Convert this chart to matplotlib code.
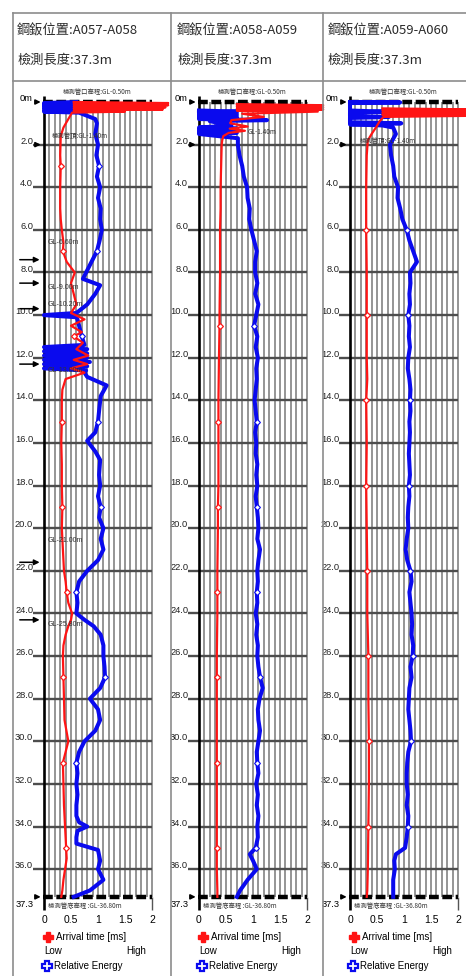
import matplotlib
matplotlib.use("Agg")
import matplotlib.pyplot as plt
from matplotlib.lines import Line2D
import numpy as np

W, H = 466, 976
CJK = ['Noto Sans CJK TC', 'DejaVu Sans']
NARROW = ['Liberation Sans Narrow', 'Liberation Sans', 'DejaVu Sans']

# ---- data ----
locations = ["A057-A058", "A058-A059", "A059-A060"]
test_length = "37.3m"
depth_ticks = [2.0, 4.0, 6.0, 8.0, 10.0, 12.0, 14.0, 16.0, 18.0, 20.0, 22.0,
               24.0, 26.0, 28.0, 30.0, 32.0, 34.0, 36.0]
bottom_depth = 37.3
x_ticks = [0, 0.5, 1, 1.5, 2]
x_tick_labels = ["0", "0.5", "1", "1.5", "2"]

# panel 1 (A057-A058)
p1_red_depth = [0.0, 0.05, 0.1, 0.15, 0.2, 0.25, 0.3, 0.35, 0.4, 0.45, 0.5, 0.8, 1.2, 1.6,
                2.5, 3.0, 4.0, 5.0, 5.5, 6.0, 6.6, 7.0, 7.5, 8.0, 8.5, 9.0, 9.5, 9.9, 10.2,
                10.5, 10.8, 11.0, 11.3, 11.6, 11.9, 12.1, 12.3, 12.5, 12.7, 13.0, 13.5, 14.0,
                15.0, 16.0, 17.0, 18.0, 19.0, 20.0, 21.0, 22.0, 22.5, 23.0, 23.5, 24.0, 24.3,
                24.6, 25.0, 25.5, 26.0, 27.0, 28.0, 29.0, 30.0, 30.5, 31.0, 32.0, 33.0, 34.0,
                35.0, 35.5, 36.0, 36.5, 37.0, 37.3]
p1_arrival = [0.55, 2.3, 0.55, 2.3, 0.55, 2.25, 0.55, 2.2, 0.55, 1.5, 0.52, 0.45, 0.36, 0.31,
              0.3, 0.31, 0.3, 0.3, 0.31, 0.33, 0.36, 0.35, 0.42, 0.57, 0.5, 0.55, 0.6, 0.5, 0.75,
              0.5, 0.7, 0.55, 0.72, 0.6, 0.82, 0.55, 0.8, 0.5, 0.75, 0.4, 0.34, 0.33,
              0.33, 0.32, 0.33, 0.33, 0.34, 0.33, 0.35, 0.37, 0.4, 0.42, 0.45, 0.52, 0.5,
              0.45, 0.4, 0.36, 0.35, 0.36, 0.37, 0.38, 0.45, 0.4, 0.35, 0.36, 0.37, 0.39,
              0.41, 0.42, 0.39, 0.36, 0.34, 0.32]
p1_blue_depth = [0.0, 0.05, 0.1, 0.15, 0.2, 0.25, 0.3, 0.35, 0.4, 0.45, 0.5, 0.8, 1.0, 1.5,
                 2.0, 2.5, 3.0, 3.5, 4.0, 4.5, 5.0, 5.5, 6.0, 6.5, 7.0, 7.5, 8.0, 8.3, 8.6,
                 9.0, 9.5, 9.9, 10.0, 10.1, 10.2, 10.5, 11.0, 11.4, 11.5, 11.6, 11.7, 11.8,
                 11.9, 12.0, 12.1, 12.2, 12.3, 12.4, 12.5, 12.6, 12.7, 12.9, 13.3, 13.8, 14.5,
                 15.0, 15.5, 15.9, 16.4, 16.8, 17.5, 18.0, 18.5, 19.0, 19.5, 20.0, 20.5, 21.0,
                 21.5, 22.0, 22.5, 23.0, 23.5, 24.0, 24.3, 24.6, 25.0, 25.5, 26.0, 26.5, 27.0,
                 27.5, 28.0, 28.5, 29.0, 29.5, 30.0, 30.5, 31.0, 31.5, 32.0, 32.5, 33.0, 33.5,
                 33.8, 34.0, 34.2, 34.5, 34.8, 35.1, 35.6, 36.0, 36.5, 37.0, 37.3]
p1_energy = [0.6, 0.0, 0.6, 0.0, 0.6, 0.0, 0.6, 0.0, 0.6, 0.0, 0.65, 0.95, 0.98, 0.95,
             1.0, 0.97, 1.02, 0.98, 1.04, 1.0, 1.05, 1.04, 1.07, 1.03, 0.98, 0.88, 0.78, 0.72, 1.04,
             0.95, 0.8, 0.6, 0.0, 0.6, 0.62, 0.65, 0.7, 0.75, 0.0, 0.8, 0.0, 0.8,
             0.0, 0.8, 0.0, 0.85, 0.0, 0.8, 0.0, 0.78, 0.75, 0.8, 1.16, 1.05, 1.02,
             1.0, 0.95, 0.8, 0.95, 1.04, 1.02, 1.04, 1.0, 1.05, 1.02, 1.1, 1.05, 1.1,
             1.0, 0.8, 0.65, 0.6, 0.62, 0.6, 0.75, 0.92, 1.05, 1.1, 1.1, 1.12, 1.13,
             1.04, 0.85, 1.0, 1.04, 0.95, 0.75, 0.65, 0.6, 0.62, 0.6, 0.62, 0.6, 0.6,
             0.65, 0.8, 0.62, 0.6, 0.6, 1.0, 1.04, 1.0, 1.1, 0.85, 0.55]
p1_marks = [3.0, 7.0, 11.0, 15.0, 19.0, 23.0, 27.0, 31.0, 35.0]

# panel 2 (A058-A059)
p2_red_depth = [0.1, 0.15, 0.2, 0.25, 0.3, 0.35, 0.4, 0.45, 0.55, 0.7, 0.85, 1.0, 1.15, 1.25,
                1.35, 1.45, 1.6, 1.8, 2.0, 3.0, 4.0, 5.0, 6.0, 7.0, 8.0, 10.0, 10.5, 12.0, 14.0,
                15.0, 16.0, 18.0, 19.0, 20.0, 22.0, 23.0, 24.0, 26.0, 27.0, 28.0, 30.0, 31.0,
                32.0, 34.0, 35.0, 36.0, 37.0, 37.3]
p2_arrival = [0.7, 2.3, 0.7, 2.3, 0.7, 2.3, 0.7, 2.2, 0.8, 1.2, 0.6, 0.58, 0.9, 0.57,
              0.85, 0.55, 0.45, 0.43, 0.42, 0.41, 0.4, 0.4, 0.39, 0.39, 0.39, 0.38, 0.38, 0.37, 0.36,
              0.36, 0.36, 0.36, 0.35, 0.35, 0.34, 0.34, 0.34, 0.33, 0.33, 0.33, 0.33, 0.33,
              0.33, 0.33, 0.33, 0.33, 0.34, 0.34]
p2_blue_depth = [0.4, 0.45, 0.5, 0.55, 0.6, 0.65, 0.7, 0.75, 0.8, 0.85, 0.9, 1.1, 1.2, 1.25,
                 1.3, 1.35, 1.4, 1.45, 1.5, 1.7, 2.0, 2.5, 3.0, 3.5, 4.0, 4.5, 5.0, 5.5, 6.0,
                 6.5, 7.0, 7.5, 8.0, 8.5, 9.0, 9.5, 10.0, 10.5, 11.0, 11.5, 12.0, 12.5, 13.0,
                 13.5, 14.0, 14.5, 15.0, 15.5, 16.0, 16.5, 17.0, 17.5, 18.0, 18.5, 19.0, 19.5,
                 20.0, 20.5, 21.0, 21.5, 22.0, 22.5, 23.0, 23.5, 24.0, 24.5, 25.0, 25.5, 26.0,
                 26.5, 27.0, 27.5, 28.0, 28.5, 29.0, 29.5, 30.0, 30.5, 31.0, 31.5, 32.0, 32.5,
                 33.0, 33.5, 34.0, 34.5, 35.0, 35.3, 35.6, 36.0, 36.5, 37.0, 37.3]
p2_energy = [0.0, 0.7, 0.0, 0.7, 0.0, 0.7, 0.0, 0.7, 0.0, 1.26, 0.2, 0.6, 0.0, 0.7,
             0.0, 0.7, 0.0, 0.7, 0.0, 0.72, 0.72, 0.75, 0.8, 0.83, 0.89, 0.9, 0.94, 0.93, 0.97,
             1.02, 1.07, 1.04, 1.04, 1.08, 1.04, 1.1, 1.06, 1.02, 1.08, 1.05, 1.09, 1.06, 1.07,
             1.05, 1.03, 1.05, 1.07, 1.04, 1.06, 1.05, 1.08, 1.06, 1.08, 1.05, 1.07, 1.09,
             1.1, 1.08, 1.13, 1.1, 1.08, 1.09, 1.07, 1.08, 1.05, 1.08, 1.06, 1.09, 1.08,
             1.1, 1.13, 1.18, 1.12, 1.09, 1.1, 1.13, 1.1, 1.07, 1.08, 1.1, 1.06, 1.09,
             1.07, 1.1, 1.08, 1.09, 1.05, 0.94, 1.0, 1.07, 0.9, 0.76, 0.7]
p2_marks = [10.5, 15.0, 19.0, 23.0, 27.0, 31.0, 35.0]

# panel 3 (A059-A060)
p3_red_depth = [0.3, 0.35, 0.4, 0.45, 0.5, 0.55, 0.6, 0.65, 0.7, 0.9, 1.2, 1.5, 1.8, 2.5,
                4.0, 6.0, 8.0, 10.0, 12.0, 13.0, 14.0, 16.0, 18.0, 20.0, 22.0, 24.0, 26.0,
                28.0, 30.0, 32.0, 34.0, 36.0, 37.0, 37.3]
p3_arrival = [0.6, 2.3, 0.6, 2.3, 0.6, 2.3, 0.6, 2.2, 0.62, 0.55, 0.48, 0.4, 0.33, 0.31,
              0.3, 0.3, 0.31, 0.31, 0.31, 0.32, 0.3, 0.31, 0.3, 0.31, 0.32, 0.32, 0.34,
              0.34, 0.35, 0.35, 0.34, 0.33, 0.32, 0.31]
p3_blue_depth = [0.0, 0.02, 0.05, 0.4, 0.45, 0.5, 0.65, 0.7, 0.75, 0.95, 1.0, 1.05, 1.1,
                 1.2, 1.5, 2.0, 2.5, 3.0, 3.5, 4.0, 4.5, 5.0, 5.5, 6.0, 6.5, 7.0, 7.5, 8.0,
                 8.5, 9.0, 9.5, 10.0, 10.5, 11.0, 11.5, 12.0, 12.5, 13.0, 13.5, 14.0, 14.5,
                 15.0, 15.5, 16.0, 16.5, 17.0, 17.5, 18.0, 18.5, 19.0, 19.5, 20.0, 20.5, 21.0,
                 21.5, 22.0, 22.5, 23.0, 23.5, 24.0, 24.5, 25.0, 25.5, 26.0, 26.5, 27.0, 27.5,
                 28.0, 28.5, 29.0, 29.5, 30.0, 30.5, 31.0, 31.5, 32.0, 32.5, 33.0, 33.5, 34.0,
                 34.5, 35.0, 35.3, 35.6, 36.0, 36.5, 37.0, 37.3]
p3_energy = [0.0, 0.93, 0.0, 0.0, 0.6, 0.0, 0.0, 0.72, 0.0, 0.0, 0.95, 0.0, 0.6,
             0.8, 0.85, 0.74, 0.76, 0.8, 0.82, 0.89, 0.88, 0.93, 0.97, 1.05, 1.1, 1.17, 1.24, 1.11,
             1.12, 1.1, 1.11, 1.08, 1.1, 1.09, 1.11, 1.08, 1.07, 1.1, 1.12, 1.11, 1.12,
             1.1, 1.11, 1.1, 1.09, 1.1, 1.11, 1.09, 1.1, 1.08, 1.07, 1.08, 1.05, 1.03,
             1.06, 1.12, 1.14, 1.1, 1.12, 1.14, 1.15, 1.14, 1.17, 1.16, 1.12, 1.14, 1.1,
             1.09, 1.08, 1.1, 1.12, 1.13, 1.08, 1.06, 1.05, 1.05, 1.07, 1.05, 1.08, 1.07,
             1.05, 1.02, 0.85, 0.82, 0.83, 0.8, 0.8, 0.8]
p3_marks = [6.0, 10.0, 14.0, 18.0, 22.0, 26.0, 30.0, 34.0]

# panel 1 extra marks (arrows + elevation notes)
p1_arrow_depths = [7.4, 8.5, 9.7, 12.3, 21.6, 24.3]
p1_notes = [(6.6, "GL-6.60m"), (8.7, "GL-9.00m"), (9.5, "GL-10.20m"),
            (12.6, "GL-13.00m"), (20.6, "GL-21.00m"), (24.5, "GL-25.80m")]
p_notes_14 = [(1.6, 0.15, "檢測管頂:GL-1.40m"), (1.4, 0.9, "GL-1.40m"), (1.85, 0.18, "檢測管頂:GL-1.40m")]

panels = [
    (p1_red_depth, p1_arrival, p1_blue_depth, p1_energy, p1_marks),
    (p2_red_depth, p2_arrival, p2_blue_depth, p2_energy, p2_marks),
    (p3_red_depth, p3_arrival, p3_blue_depth, p3_energy, p3_marks),
]

# ---- layout (pixels) ----
axis_x = [44, 199, 350]
PPU, PPM, Y0 = 54.0, 21.31, 102.0
X_LO, X_HI = -0.8, 2.4
AX_TOP = 84


def dep(ypix):
    return (ypix - Y0) / PPM


fig = plt.figure(figsize=(W / 100, H / 100), dpi=100)
fig.patch.set_facecolor("white")

# table lines
def hline_px(y, x1, x2):
    fig.add_artist(Line2D([x1 / W, x2 / W], [1 - y / H, 1 - y / H], color="#8c8c8c", lw=1.2))

def vline_px(x, y1, y2):
    fig.add_artist(Line2D([x / W, x / W], [1 - y1 / H, 1 - y2 / H], color="#8c8c8c", lw=1.2))

hline_px(13, 13, W)
hline_px(81, 13, W)
for xp in [13, 171, 323]:
    vline_px(xp, 13, H)

header_x = [17, 177, 328]
for i, loc in enumerate(locations):
    fig.text(header_x[i] / W, 1 - 31 / H, "鋼鈑位置:" + loc, family=CJK, fontsize=9.5,
             color="#2a2a2a", va="center", ha="left")
    fig.text(header_x[i] / W, 1 - 60 / H, "檢測長度:" + test_length, family=CJK, fontsize=9.5,
             color="#2a2a2a", va="center", ha="left")

red = "#ff1414"
blue = "#0a0aee"

for i, (rd, rv, bd, bv, marks) in enumerate(panels):
    x0 = axis_x[i]
    left = x0 + X_LO * PPU
    width = (X_HI - X_LO) * PPU
    ax = fig.add_axes([left / W, 0, width / W, 1 - AX_TOP / H])
    ax.set_xlim(X_LO, X_HI)
    ax.set_ylim(dep(H), dep(AX_TOP))
    ax.axis("off")

    # grid
    ax.vlines(np.arange(0.1, 2.001, 0.1), 0, bottom_depth, color="#7d7d7d", lw=1.15, zorder=1)
    ax.hlines(depth_ticks, -0.2, 2.0, color="#4d4d4d", lw=1.7, zorder=1)
    ax.vlines(0, -0.3, bottom_depth + 0.6, color="black", lw=1.9, zorder=2)
    ax.vlines(2.0, bottom_depth, bottom_depth + 0.6, color="#555555", lw=1.0, zorder=2)
    ax.hlines([0, bottom_depth], -0.02, 2.0, colors="black", lw=3.2,
              linestyles=[(0, (2.2, 0.8))], zorder=2)

    # depth labels
    for d in depth_ticks:
        ax.text(-0.2, d + 0.05, f"{d:.1f}", ha="right", va="bottom", fontsize=6.7,
                family=NARROW, color="#222222")
    ax.text(-0.22, 0.05, "0m", ha="right", va="bottom", fontsize=6.7, family=NARROW)
    ax.text(-0.2, bottom_depth + 0.15, f"{bottom_depth}", ha="right", va="top", fontsize=6.7,
            family=NARROW)
    for d in [0, 2.0, bottom_depth]:
        ax.annotate("", xy=(-0.01, d), xytext=(-0.2, d),
                    arrowprops=dict(arrowstyle="-|>", color="black", lw=1.2, mutation_scale=7))

    # curves
    bidx = [k for k, d in enumerate(bd) if d in marks]
    ridx = [k for k, d in enumerate(rd) if d in marks]
    ax.plot(bv, bd, color=blue, lw=2.9, zorder=4, marker="D", markevery=bidx, ms=3,
            mfc="white", mec=blue, mew=0.8, solid_joinstyle="round")
    ax.plot(rv, rd, color=red, lw=1.6, zorder=5, marker="D", markevery=ridx, ms=3,
            mfc="white", mec=red, mew=0.9)

    # annotations top / bottom
    ax.text(0.98, dep(92), "檢測管口高程:GL-0.50m", family=CJK, fontsize=4.6, ha="center",
            va="center", color="#333333")
    ax.text(0.08, dep(906), "檢測管底高程 :GL-36.80m", family=CJK, fontsize=4.6, ha="left",
            va="center", color="#333333")
    nd, nx, nt = p_notes_14[i]
    ax.text(nx, nd, nt, family=CJK, fontsize=4.6, ha="left", va="center", color="#333333",
            zorder=6)

    # x tick labels
    for xt, lab in zip(x_ticks, x_tick_labels):
        ax.text(xt, dep(920), lab, ha="center", va="center", fontsize=7.5, family=NARROW)

    # legend block
    ax.plot([0.07], [dep(937)], marker="P", ms=7, color=red, mec=red, clip_on=False)
    ax.text(0.22, dep(937), "Arrival time [ms]", fontsize=7, family=NARROW, va="center")
    ax.text(0.0, dep(951), "Low", fontsize=7, family=NARROW, va="center")
    ax.text(1.9, dep(951), "High", fontsize=7, family=NARROW, va="center", ha="right")
    ax.plot([0.05], [dep(966)], marker="P", ms=7, color=blue, mfc="white", mec=blue, mew=1.6,
            clip_on=False)
    ax.text(0.18, dep(966), "Relative Energy", fontsize=7, family=NARROW, va="center")

    if i == 0:
        for d in p1_arrow_depths:
            ax.annotate("", xy=(-0.03, d), xytext=(-0.5, d),
                        arrowprops=dict(arrowstyle="-|>", color="black", lw=1.1,
                                        mutation_scale=8))
        for d, t in p1_notes:
            ax.text(0.06, d, t, fontsize=5, family=NARROW, color="#333333", va="center",
                    zorder=6)

fig.savefig("out.png", dpi=100)
